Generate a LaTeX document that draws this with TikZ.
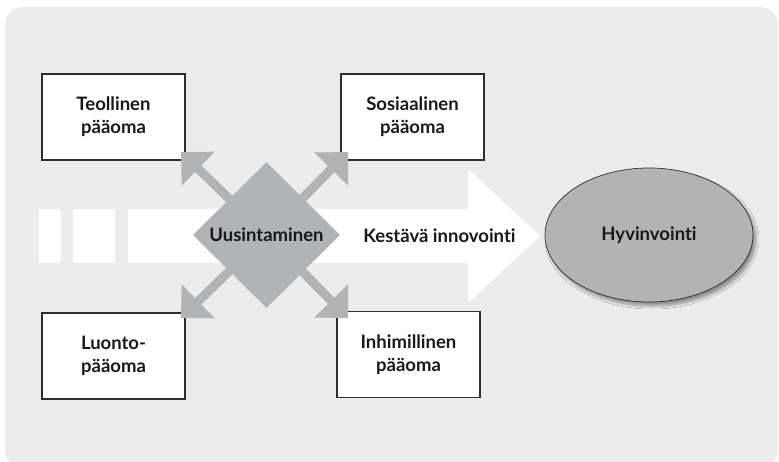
\documentclass[tikz,border=0pt]{standalone}
\usepackage{fontspec}
\setmainfont{Lato}[Ligatures={NoCommon}]
\usetikzlibrary{shapes.geometric,arrows.meta,shadows.blur}

\definecolor{panel}{HTML}{ECECEC}
\definecolor{greyfill}{HTML}{B2B3B5}
\definecolor{ovalfill}{HTML}{B3B3B3}
\definecolor{edge}{HTML}{2E2E2E}

\tikzset{
  lbl/.style={font=\fontsize{18.5}{23}\selectfont\bfseries, text=black!90, align=center},
  capbox/.style={lbl, draw=edge, line width=1.1pt, fill=white,
    minimum width=143pt, minimum height=86pt, inner sep=0pt},
  hub/.style={lbl, diamond, fill=greyfill, minimum width=147pt,
    minimum height=146pt, inner sep=0pt, aspect=1},
  spoke/.style={greyfill, line width=9pt,
    -{Triangle[length=24pt,width=46pt]}},
  goal/.style={lbl, ellipse, draw=edge, line width=0.7pt, fill=ovalfill,
    minimum width=208pt, minimum height=134pt, inner sep=0pt,
    blur shadow={shadow xshift=3pt, shadow yshift=-4pt,
      shadow blur radius=3pt, shadow blur steps=10, shadow opacity=40}},
}

\begin{document}
\begin{tikzpicture}[x=1pt,y=-1pt]
  \useasboundingbox (0,0) rectangle (779,462);
  \clip (0,0) rectangle (779,462);

  % panel
  \fill[panel, rounded corners=18pt] (5,7) rectangle (778,468);

  % broad white arrow with broken tail
  \fill[white] (39,209) rectangle (61,263);
  \fill[white] (73,209) rectangle (115,263);
  \fill[white] (128,209) -- (468,209) -- (468,169) -- (540,236)
    -- (468,303) -- (468,263) -- (128,263) -- cycle;

  % capital boxes
  \node[capbox] (teo) at (113.5,117) {Teollinen\\pääoma};
  \node[capbox] (sos) at (412.5,117) {Sosiaalinen\\pääoma};
  \node[capbox] (luo) at (113.5,356) {Luonto-\\pääoma};
  \node[capbox] (ihm) at (408.5,354.5) {Inhimillinen\\pääoma};

  % renewal hub
  \node[hub] (uus) at (266.5,235) {};

  % arrow tips at the box corners
  \coordinate (tTL) at (181,152);
  \coordinate (tTR) at (348,152);
  \coordinate (tBL) at (181,318);
  \coordinate (tBR) at (348,318);

  \draw[spoke] (uus.center) -- (tTL);
  \draw[spoke] (uus.center) -- (tTR);
  \draw[spoke] (uus.center) -- (tBL);
  \draw[spoke] (uus.center) -- (tBR);

  \node[lbl] (uuslbl) at (uus.center) {Uusintaminen};
  \node[lbl] (kest) at (439.5,236) {Kestävä innovointi};

  % wellbeing goal
  \node[goal] (hyv) at (649,235) {Hyvinvointi};
\end{tikzpicture}
\end{document}
